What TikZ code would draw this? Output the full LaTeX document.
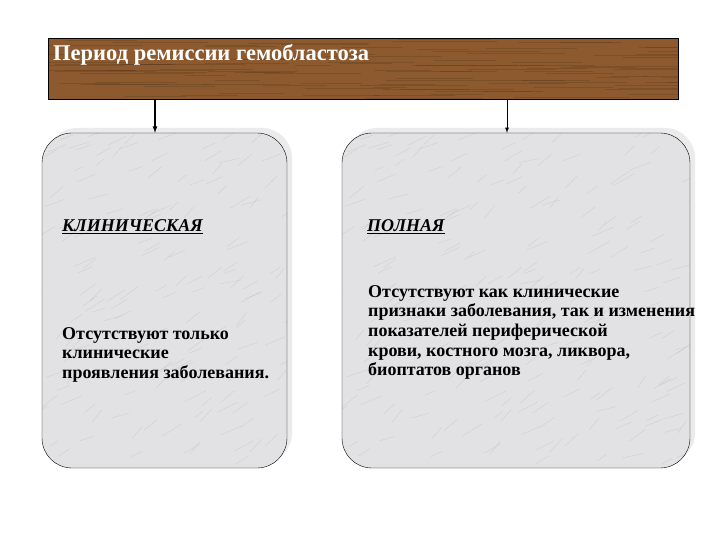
\documentclass[tikz,border=0pt]{standalone}
\usepackage{fontspec}
\setmainfont{Liberation Serif}
\usetikzlibrary{arrows,shapes,shadows}
\definecolor{wood}{RGB}{140,90,46}
\definecolor{marble}{RGB}{226,226,228}

\begin{document}
\begin{tikzpicture}[x=1pt,y=-1pt]
\tikzstyle{every node} = [rectangle, inner sep=0pt]
\tikzstyle{grain} = [path picture={
  \pgfmathsetseed{3}
  \foreach \i in {1,...,110} {
    \draw[wood!60!black, line width=0.4pt, opacity=0.3] ([shift={(rnd*640pt-20pt, -rnd*61pt)}]path picture bounding box.north west) -- ++(rnd*90pt+30pt, 0pt);
  }}]
\tikzstyle{veins} = [path picture={
  \pgfmathsetseed{7}
  \foreach \i in {1,...,220} {
    \draw[gray!55, line width=0.4pt, opacity=0.45] ([shift={(rnd*370pt-20pt, -rnd*345pt)}]path picture bounding box.north west) -- ++(rnd*14pt+8pt, rnd*9pt+4pt);
  }}]
\tikzstyle{panel} = [draw, fill=marble, veins, rounded corners=30pt, drop shadow={shadow xshift=5pt, shadow yshift=5pt, fill=black!8, opacity=1}]
\tikzstyle{head} = [anchor=west, font=\bfseries\itshape\fontsize{18}{20}\selectfont]
\tikzstyle{body} = [anchor=north west, align=left, font=\bfseries\fontsize{18}{19.7}\selectfont]
\useasboundingbox (0,0) rectangle (720,540);

\node[draw, fill=wood, grain, minimum width=630pt, minimum height=61pt] (period) at (363, 68.5) {};
\node[anchor=base west, text=white, font=\bfseries\fontsize{22.5}{26}\selectfont] (title) at (53, 61) {Период ремиссии гемобластоза};

\node[panel, minimum width=245pt, minimum height=335pt] (clinic) at (164.5, 300.5) {};
\node[panel, minimum width=348pt, minimum height=335pt] (full) at (516, 300.5) {};

\node[head] (clinhead) at (62, 227) {\underline{КЛИНИЧЕСКАЯ}};
\node[body] (clintext) at (62, 327) {Отсутствуют только\\клинические\\проявления заболевания.};
\node[head] (fullhead) at (367, 227) {\underline{ПОЛНАЯ}};
\node[body] (fulltext) at (368, 285) {Отсутствуют как клинические\\признаки заболевания, так и изменения\\показателей периферической\\крови, костного мозга, ликвора,\\биоптатов органов};

\coordinate (clinin) at ([xshift=-9.5pt]clinic.north);
\coordinate (fullin) at ([xshift=-9pt]full.north);
\draw [-latex, line width=1.2pt] (clinin |- period.south) -- (clinin);
\draw [-latex, line width=0.8pt] (fullin |- period.south) -- (fullin);
\end{tikzpicture}
\end{document}
